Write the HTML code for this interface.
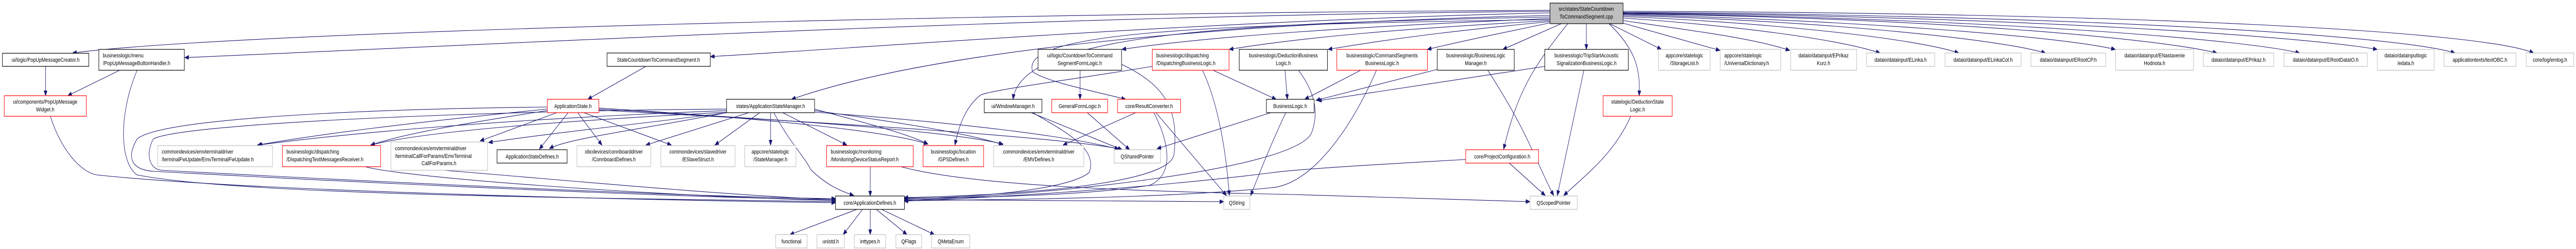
<!DOCTYPE html>
<html><head><meta charset="utf-8"><style>
html,body{margin:0;padding:0;background:#fff;width:100%;height:100%;overflow:hidden;}
svg{display:block;position:absolute;left:0;top:0;width:100vw;height:100vh;}
text{font-family:"Liberation Sans",sans-serif;font-size:11.5px;fill:#000;}
.e{fill:none;stroke:#191970;stroke-width:1.1;marker-end:url(#a);}
.b{fill:#fff;stroke:#000;stroke-width:1.2;}
.r{fill:#fff;stroke:#ff0000;stroke-width:1.2;}
.g{fill:#fff;stroke:#bfbfbf;stroke-width:1.2;}
</style></head><body>
<svg viewBox="0 0 6385 484" preserveAspectRatio="none" xmlns="http://www.w3.org/2000/svg">
<defs><marker id="a" markerUnits="userSpaceOnUse" markerWidth="11" markerHeight="9" refX="10" refY="4" orient="auto"><path d="M0,0 L10,4 L0,8 z" fill="#191970" stroke="#191970"/></marker></defs>

<path class="e" d="M3842,20 C2500,25 600,60 180,103"/>
<path class="e" d="M3842,22 C2600,30 1400,80 458,112"/>
<path class="e" d="M3842,25 C3000,40 2200,90 1761,110"/>
<path class="e" d="M3842,30 C3000,45 2300,100 1962,193"/>
<path class="e" d="M3842,33 C3100,45 2530,60 2511,193"/>
<path class="e" d="M3842,36 C3400,50 3000,70 2781,96"/>
<path class="e" d="M3842,38 C3000,48 2520,60 2560,140 C2600,160 2700,175 2790,193"/>
<path class="e" d="M3842,40 C3500,55 3250,70 3047,96"/>
<path class="e" d="M3842,42 C3600,60 3450,75 3292,96"/>
<path class="e" d="M3850,43 C3750,60 3650,75 3538,96"/>
<path class="e" d="M3870,46 L3725,96"/>
<path class="e" d="M3886,46 C3800,130 3760,180 3727,290"/>
<path class="e" d="M3932,46 L3932,96"/>
<path class="e" d="M3988,46 C4060,100 4065,140 4063,186"/>
<path class="e" d="M3990,46 L4118,96"/>
<path class="e" d="M4023,45 L4263,98"/>
<path class="e" d="M4023,40 C4200,60 4350,75 4436,98"/>
<path class="e" d="M4023,35 C4300,50 4550,75 4660,103"/>
<path class="e" d="M4023,32 C4400,45 4750,75 4855,103"/>
<path class="e" d="M4023,30 C4500,40 4950,75 5070,103"/>
<path class="e" d="M4023,28 C4600,40 5100,70 5243,96"/>
<path class="e" d="M4023,27 C4800,35 5350,75 5495,103"/>
<path class="e" d="M4023,26 C4900,35 5550,75 5700,103"/>
<path class="e" d="M4023,25 C5000,32 5700,70 5892,96"/>
<path class="e" d="M4023,24 C5200,30 5950,70 6085,103"/>
<path class="e" d="M4023,22 C5300,25 6150,60 6280,103"/>

<path class="e" d="M113,129 L113,186"/>
<path class="e" d="M298,136 L168,186"/>
<path class="e" d="M340,136 C290,230 300,320 340,340 C600,380 1500,385 2071,392"/>
<path class="e" d="M125,226 C150,290 200,335 240,340 C600,370 1500,388 2071,394"/>
<path class="e" d="M1601,129 L1457,193"/>
<path class="e" d="M1356,208 C900,212 400,230 340,270 C310,310 330,330 380,333 C900,355 1700,385 2071,388"/>
<path class="e" d="M1801,212 C1200,215 450,240 380,270 C360,300 370,328 400,331 C900,352 1700,383 2071,386"/>
<path class="e" d="M1356,212 C1000,240 800,260 638,282"/>
<path class="e" d="M1801,215 C1300,230 900,255 640,282"/>
<path class="e" d="M1356,215 C1150,240 1000,260 919,282"/>
<path class="e" d="M1801,218 C1400,235 1050,255 919,282"/>
<path class="e" d="M1380,219 L1190,274"/>
<path class="e" d="M1801,219 C1600,240 1400,255 1211,277"/>
<path class="e" d="M1408,219 L1337,290"/>
<path class="e" d="M1801,219 C1600,250 1400,270 1362,289"/>
<path class="e" d="M1432,219 L1492,282"/>
<path class="e" d="M1447,219 L1664,282"/>
<path class="e" d="M1856,219 L1601,282"/>
<path class="e" d="M1883,219 L1772,282"/>
<path class="e" d="M1910,219 L1910,282"/>
<path class="e" d="M1940,219 L2099,282"/>
<path class="e" d="M1918,219 C1960,280 1990,300 2010,330 C2050,360 2080,370 2116,380"/>
<path class="e" d="M1484,210 C1900,230 2200,255 2300,280"/>
<path class="e" d="M1484,212 C2000,235 2350,255 2486,280"/>
<path class="e" d="M1484,214 C2100,240 2600,265 2773,289"/>
<path class="e" d="M2019,212 C2150,240 2250,260 2300,280"/>
<path class="e" d="M2019,215 C2250,240 2400,260 2486,281"/>
<path class="e" d="M2019,218 C2400,240 2650,265 2773,290"/>
<path class="e" d="M2157,324 L2157,381"/>
<path class="e" d="M2233,324 C2400,360 2800,372 3200,378 C3500,385 3700,388 3792,392"/>
<path class="e" d="M905,324 C1000,345 1600,380 2071,390"/>
<path class="e" d="M1100,331 C1400,350 1800,380 2071,388"/>
<path class="e" d="M2124,407 L1958,456"/>
<path class="e" d="M2138,407 L2090,456"/>
<path class="e" d="M2157,407 L2157,456"/>
<path class="e" d="M2172,407 L2248,456"/>
<path class="e" d="M2185,407 L2316,456"/>
<path class="e" d="M2241,388 C2600,390 2900,390 3033,392"/>
<path class="e" d="M2556,219 L2781,291"/>
<path class="e" d="M2560,219 C2650,260 2720,290 2700,335 C2650,370 2400,385 2241,386"/>
<path class="e" d="M2695,219 L2800,291"/>
<path class="e" d="M2815,219 L2635,282"/>
<path class="e" d="M2865,219 L3040,380"/>
<path class="e" d="M2860,219 C2900,280 2910,340 2850,360 C2700,380 2400,385 2241,385"/>
<path class="e" d="M2677,136 L2677,193"/>
<path class="e" d="M2780,125 C2900,170 2920,220 2910,300 C2900,360 2500,380 2241,384"/>
<path class="e" d="M2856,129 C2700,150 2450,175 2430,185 C2390,210 2375,250 2367,282"/>
<path class="e" d="M3005,136 L3163,193"/>
<path class="e" d="M2980,136 C3020,200 3040,300 3047,380"/>
<path class="e" d="M3185,136 L3191,193"/>
<path class="e" d="M3218,136 C3260,180 3270,220 3250,260 C3200,330 2600,380 2241,389"/>
<path class="e" d="M3150,219 L2868,289"/>
<path class="e" d="M3187,219 C3150,280 3120,340 3100,380"/>
<path class="e" d="M3374,136 L3234,193"/>
<path class="e" d="M3412,136 C3350,250 3250,360 3150,365 C2900,385 2500,388 2241,390"/>
<path class="e" d="M3562,135 L3262,195"/>
<path class="e" d="M3687,136 C3790,260 3810,320 3851,380"/>
<path class="e" d="M3829,129 L3266,196"/>
<path class="e" d="M3926,136 L3860,380"/>
<path class="e" d="M4042,226 C4000,300 3930,340 3876,380"/>
<path class="e" d="M3741,317 L3830,380"/>
<path class="e" d="M3633,310 C3400,320 3200,330 3150,336 C2800,370 2400,386 2241,391"/>

<rect x="3842" y="6" width="181" height="40" fill="#bfbfbf" stroke="#000" stroke-width="1.2"/>
<text x="3932" y="21" text-anchor="middle">src/states/StateCountdown</text>
<text x="3932" y="36" text-anchor="middle">ToCommandSegment.cpp</text>

<rect class="b" x="6" y="103.5" width="214" height="25.5"/>
<text x="113" y="120" text-anchor="middle">ui/logic/PopUpMessageCreator.h</text>

<rect class="b" x="245" y="96" width="212" height="40.5"/>
<text x="255" y="111.5">businesslogic/menu</text>
<text x="255" y="126.5">/PopUpMessageButtonHandler.h</text>

<rect class="r" x="10.5" y="186" width="203.5" height="40"/>
<text x="112" y="201.5" text-anchor="middle">ui/components/PopUpMessage</text>
<text x="112" y="216.5" text-anchor="middle">Widget.h</text>

<rect class="g" x="391" y="283" width="284.5" height="41"/>
<text x="401" y="298.5">commondevices/emvterminaldriver</text>
<text x="401" y="313.5">/terminalFwUpdate/EmvTerminalFwUpdate.h</text>

<rect class="r" x="700" y="283" width="243.5" height="41"/>
<text x="710" y="298.5">businesslogic/dispatching</text>
<text x="710" y="313.5">/DispatchingTextMessagesReceiver.h</text>

<rect class="g" x="969" y="276" width="239.5" height="55"/>
<text x="979" y="292">commondevices/emvterminaldriver</text>
<text x="979" y="307">/terminalCallForParams/EmvTerminal</text>
<text x="1088" y="321" text-anchor="middle">CallForParams.h</text>

<rect class="b" x="1504.6" y="103" width="256" height="26"/>
<text x="1632" y="120" text-anchor="middle">StateCountdownToCommandSegment.h</text>

<rect class="r" x="1356.6" y="193" width="127.6" height="26"/>
<text x="1420" y="210" text-anchor="middle">ApplicationState.h</text>

<rect class="b" x="1801" y="193" width="218" height="26"/>
<text x="1910" y="210" text-anchor="middle">states/ApplicationStateManager.h</text>

<rect class="b" x="1232" y="291" width="173.7" height="26"/>
<text x="1319" y="308" text-anchor="middle">ApplicationStateDefines.h</text>

<rect class="g" x="1430" y="283" width="183" height="41"/>
<text x="1521.5" y="298.5" text-anchor="middle">obcdevices/connboarddriver</text>
<text x="1521.5" y="313.5" text-anchor="middle">/ConnboardDefines.h</text>

<rect class="g" x="1638" y="283" width="184" height="41"/>
<text x="1730" y="298.5" text-anchor="middle">commondevices/slavedriver</text>
<text x="1730" y="313.5" text-anchor="middle">/ESlaveStruct.h</text>

<rect class="g" x="1846" y="283" width="127" height="41"/>
<text x="1909.5" y="298.5" text-anchor="middle">appcore/statelogic</text>
<text x="1909.5" y="313.5" text-anchor="middle">/StateManager.h</text>

<rect class="r" x="2049" y="283" width="214.5" height="41"/>
<text x="2059" y="298.5">businesslogic/monitoring</text>
<text x="2059" y="313.5">/MonitoringDeviceStatusReport.h</text>

<rect class="b" x="2071" y="381" width="170.7" height="26"/>
<text x="2156" y="398" text-anchor="middle">core/ApplicationDefines.h</text>

<rect class="g" x="1922.7" y="456" width="77.8" height="26"/>
<text x="1961.6" y="473" text-anchor="middle">functional</text>
<rect class="g" x="2025" y="456" width="68" height="26"/>
<text x="2059" y="473" text-anchor="middle">unistd.h</text>
<rect class="g" x="2117.5" y="456" width="77.9" height="26"/>
<text x="2156.5" y="473" text-anchor="middle">inttypes.h</text>
<rect class="g" x="2220.7" y="456" width="63.8" height="26"/>
<text x="2252.6" y="473" text-anchor="middle">QFlags</text>
<rect class="g" x="2309" y="456" width="94.8" height="26"/>
<text x="2356.4" y="473" text-anchor="middle">QMetaEnum</text>

<rect class="r" x="2288" y="283" width="150" height="41"/>
<text x="2363" y="298.5" text-anchor="middle">businesslogic/location</text>
<text x="2363" y="313.5" text-anchor="middle">/GPSDefines.h</text>

<rect class="g" x="2463" y="283" width="223.5" height="41"/>
<text x="2574.7" y="298.5" text-anchor="middle">commondevices/emvterminaldriver</text>
<text x="2574.7" y="313.5" text-anchor="middle">/EMVDefines.h</text>

<rect class="g" x="2761.5" y="291" width="115" height="26"/>
<text x="2819" y="308" text-anchor="middle">QSharedPointer</text>

<rect class="g" x="3033" y="381" width="65" height="26"/>
<text x="3065.5" y="398" text-anchor="middle">QString</text>

<rect class="b" x="2439.5" y="193" width="143" height="26"/>
<text x="2511" y="210" text-anchor="middle">ui/WindowManager.h</text>

<rect class="r" x="2607" y="193" width="138.4" height="26"/>
<text x="2676.2" y="210" text-anchor="middle">GeneralFormLogic.h</text>

<rect class="r" x="2770" y="193" width="156.4" height="26"/>
<text x="2848.2" y="210" text-anchor="middle">core/ResultConverter.h</text>

<rect class="b" x="2573" y="96" width="207" height="40.5"/>
<text x="2676.5" y="111.5" text-anchor="middle">ui/logic/CountdownToCommand</text>
<text x="2676.5" y="126.5" text-anchor="middle">SegmentFormLogic.h</text>

<rect class="r" x="2856" y="96" width="190.4" height="40.5"/>
<text x="2866" y="111.5">businesslogic/dispatching</text>
<text x="2866" y="126.5">/DispatchingBusinessLogic.h</text>

<rect class="b" x="3071.6" y="96" width="218.7" height="40.5"/>
<text x="3181" y="111.5" text-anchor="middle">businesslogic/DeductionBusiness</text>
<text x="3181" y="126.5" text-anchor="middle">Logic.h</text>

<rect class="b" x="3139" y="193" width="118.3" height="26"/>
<text x="3198" y="210" text-anchor="middle">BusinessLogic.h</text>

<rect class="r" x="3313.5" y="96" width="224.5" height="40.5"/>
<text x="3425.7" y="111.5" text-anchor="middle">businesslogic/CommandSegments</text>
<text x="3425.7" y="126.5" text-anchor="middle">BusinessLogic.h</text>

<rect class="b" x="3562.5" y="96" width="190.8" height="40.5"/>
<text x="3658" y="111.5" text-anchor="middle">businesslogic/BusinessLogic</text>
<text x="3658" y="126.5" text-anchor="middle">Manager.h</text>

<rect class="b" x="3829" y="96" width="207" height="40.5"/>
<text x="3932.5" y="111.5" text-anchor="middle">businesslogic/TripStartAcoustic</text>
<text x="3932.5" y="126.5" text-anchor="middle">SignalizationBusinessLogic.h</text>

<rect class="g" x="4111" y="96" width="127.7" height="40.5"/>
<text x="4175" y="111.5" text-anchor="middle">appcore/statelogic</text>
<text x="4175" y="126.5" text-anchor="middle">/StorageList.h</text>

<rect class="r" x="3973.6" y="186" width="171.2" height="40"/>
<text x="4059" y="201.5" text-anchor="middle">statelogic/DeductionState</text>
<text x="4059" y="216.5" text-anchor="middle">Logic.h</text>

<rect class="r" x="3633" y="291" width="180.6" height="26"/>
<text x="3723.3" y="308" text-anchor="middle">core/ProjectConfiguration.h</text>

<rect class="g" x="3792.6" y="381" width="117" height="26"/>
<text x="3851" y="398" text-anchor="middle">QScopedPointer</text>

<rect class="g" x="4263.8" y="96" width="150.2" height="40.5"/>
<text x="4274" y="111.5">appcore/statelogic</text>
<text x="4274" y="126.5">/UniversalDictionary.h</text>

<rect class="g" x="4438.5" y="96" width="163.5" height="40.5"/>
<text x="4520" y="111.5" text-anchor="middle">dataio/datainput/EPrikaz</text>
<text x="4520" y="126.5" text-anchor="middle">Kurz.h</text>

<rect class="g" x="4626.5" y="103" width="169" height="26"/>
<text x="4711" y="120" text-anchor="middle">dataio/datainput/ELinka.h</text>

<rect class="g" x="4821" y="103" width="188.6" height="26"/>
<text x="4915.3" y="120" text-anchor="middle">dataio/datainput/ELinkaCol.h</text>

<rect class="g" x="5034" y="103" width="185.3" height="26"/>
<text x="5126.6" y="120" text-anchor="middle">dataio/datainput/ERootCP.h</text>

<rect class="g" x="5243.8" y="96" width="193.4" height="40.5"/>
<text x="5340.5" y="111.5" text-anchor="middle">dataio/datainput/ENastavenie</text>
<text x="5340.5" y="126.5" text-anchor="middle">Hodnota.h</text>

<rect class="g" x="5461" y="103" width="174.8" height="26"/>
<text x="5548.4" y="120" text-anchor="middle">dataio/datainput/EPrikaz.h</text>

<rect class="g" x="5661" y="103" width="207" height="26"/>
<text x="5764.5" y="120" text-anchor="middle">dataio/datainput/ERootDataIO.h</text>

<rect class="g" x="5892.5" y="96" width="141" height="40.5"/>
<text x="5963" y="111.5" text-anchor="middle">dataio/datainputlogic</text>
<text x="5963" y="126.5" text-anchor="middle">/edata.h</text>

<rect class="g" x="6058" y="103" width="178" height="26"/>
<text x="6147" y="120" text-anchor="middle">applicationtexts/textOBC.h</text>

<rect class="g" x="6261.5" y="103" width="118" height="26"/>
<text x="6320.5" y="120" text-anchor="middle">core/log/emlog.h</text>
</svg>
</body></html>
